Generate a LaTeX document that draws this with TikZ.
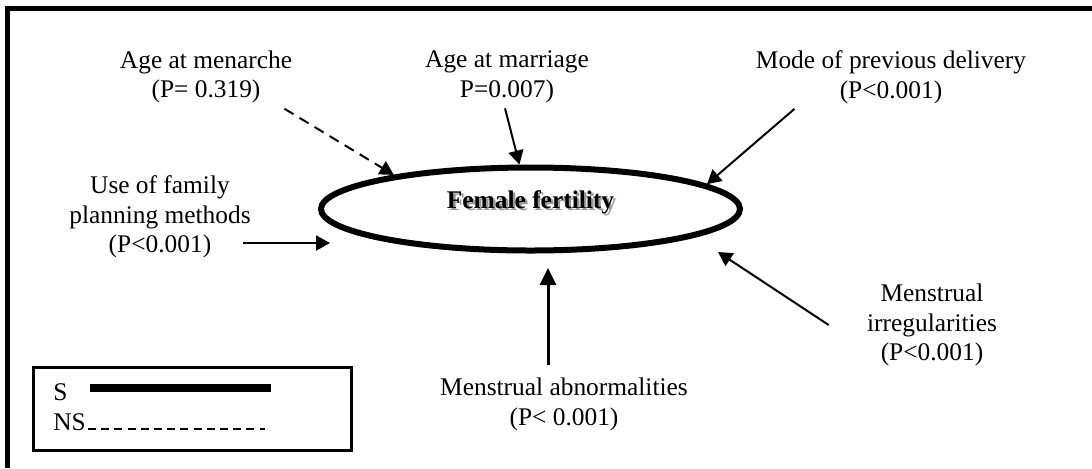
\documentclass[tikz,border=0pt]{standalone}
\usepackage{fontspec}
\setmainfont{Liberation Serif}
\usetikzlibrary{arrows.meta,calc,shapes.geometric}

\begin{document}
\begin{tikzpicture}[x=0.5pt,y=-0.5pt,font=\fontsize{12.7}{14.8}\selectfont,
lbl/.style={align=center,inner sep=0pt},
arr/.style={-{Triangle[length=7pt,width=7.5pt]},line width=1pt},
fat/.style={-{Triangle[length=8.5pt,width=8pt]},line width=1.5pt}]
\useasboundingbox (0,0) rectangle (1092,468);
\draw[line width=2.5pt] (7,468) |- (1092,8.5);
\node[ellipse,draw,line width=3pt,minimum width=209.5pt,minimum height=41.5pt,
  text height=2pt,text depth=2.7pt,font=\fontsize{12.7}{14.8}\selectfont\bfseries] (fert) at (530.5,209)
  {\rlap{\kern1.2pt\raisebox{-1.2pt}{\color{black!40}Female fertility}}Female fertility};
\node[lbl] (menarche) at (206,77) {Age at menarche\\(P= 0.319)};
\node[lbl] (marriage) at (507,77) {Age at marriage\\P=0.007)};
\node[lbl] (mode) at (891,77) {Mode of previous delivery\\(P<0.001)};
\node[lbl] (family) at (160,217) {Use of family\\planning methods\\(P<0.001)};
\node[lbl] (abnorm) at (564,404.5) {Menstrual abnormalities\\(P< 0.001)};
\node[lbl] (irreg) at (932,325) {Menstrual\\irregularities\\(P<0.001)};
\coordinate (useTip) at (330,243);
\coordinate (abnTip) at (548,268);
\coordinate (irrTip) at (718,252);
\draw[arr,dash pattern=on 5.3pt off 3.5pt] ($(menarche.south east)+(-8,5)$) -- (fert.166);
\draw[arr] ($(marriage.south)+(-2,5)$) -- (fert.104);
\draw[arr] ($(mode.south west)+(39,5)$) -- (fert.8);
\draw[arr] ($(useTip -| family.east)+(-8,0)$) -- (useTip);
\draw[fat] ($(abnTip |- abnorm.north)+(0,-13)$) -- (abnTip);
\draw[arr] ($(irreg.west)+(-38,0)$) -- (irrTip);
\draw[line width=1.5pt] (33,367) rectangle (351,450);
\node[anchor=base west,inner sep=0pt] (s) at (53,400) {S};
\node[anchor=base west,inner sep=0pt] (ns) at (53,430) {NS};
\draw[line width=4pt] (90,388) -- (271,388);
\draw[line width=0.8pt,dash pattern=on 4pt off 2.6pt] (88,429) -- (265,429);
\end{tikzpicture}
\end{document}
